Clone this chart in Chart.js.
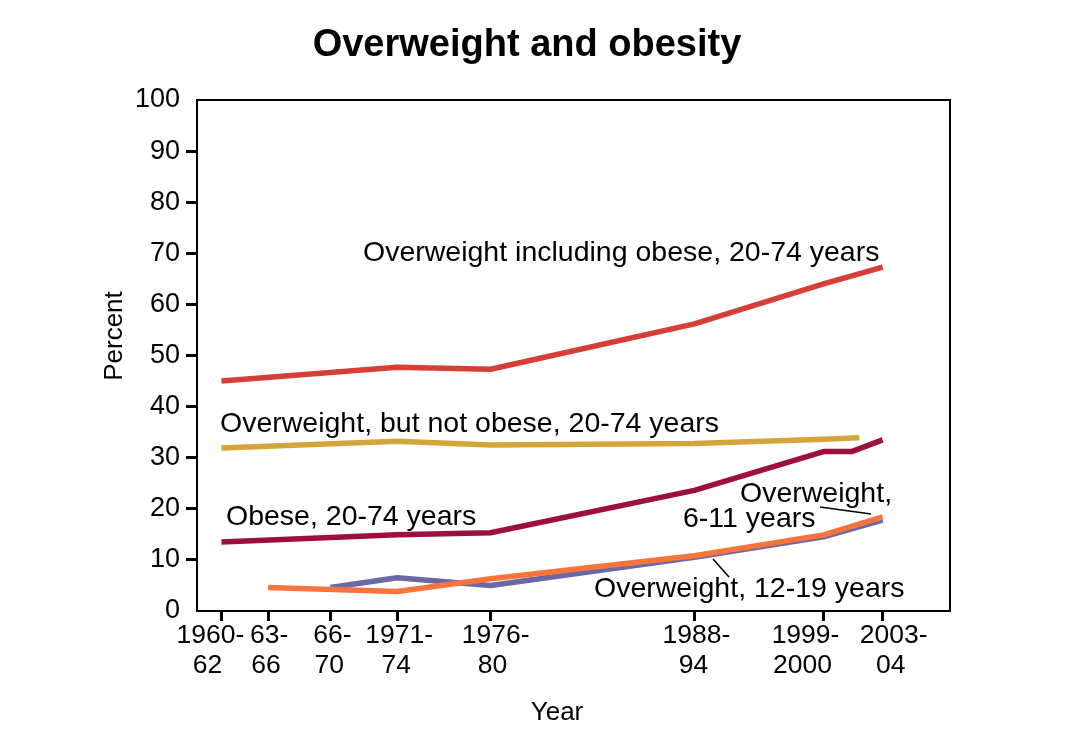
<!DOCTYPE html>
<html><head><meta charset="utf-8">
<script src="https://cdn.jsdelivr.net/npm/chart.js@4.4.1/dist/chart.umd.min.js"></script>
<style>html,body{margin:0;padding:0;background:#fff;} #wrap{width:1092px;height:742px;}</style>
</head><body><div id="wrap"><canvas id="c" width="1092" height="742"></canvas></div>
<script>
// ---- data ----
const tickYears = [1961, 1964, 1968, 1972.3, 1978.3, 1991.4, 1999.7, 2003.5];
const tickLabels = [['1960-','62'],['63-','66'],['66-','70'],['1971-','74'],['1976-','80'],['1988-','94'],['1999-','2000'],['2003-','04']];
const yTicks = [0,10,20,30,40,50,60,70,80,90,100];

const xOverweightAll = [1961, 1972.3, 1978.3, 1991.4, 1999.7, 2003.5];
const overweightAll  = [45.0, 47.7, 47.3, 56.2, 64.0, 67.3];
const xOverweightOnly = [1961, 1972.3, 1978.3, 1991.4, 1999.7, 2002];
const overweightOnly  = [31.9, 33.2, 32.5, 32.8, 33.6, 33.9];
const xObese = [1961, 1972.3, 1978.3, 1991.4, 1999.7, 2001.5, 2003.5];
const obese  = [13.5, 14.9, 15.3, 23.6, 31.2, 31.2, 33.5];
const xChild = [1964, 1972.3, 1978.3, 1991.4, 1999.7, 2003.5];
const child  = [4.6, 3.8, 6.3, 10.8, 14.9, 18.4];
const xTeen  = [1968, 1972.3, 1978.3, 1991.4, 1999.7, 2003.5];
const teen   = [4.6, 6.5, 5.0, 10.5, 14.5, 17.8];

// ---- layout / style (not data) ----
const FONT = '"Liberation Sans", Arial, Helvetica, sans-serif';
const xLabelShift = [-11, 1, 2, 2, 5, 2, -18, 11];

function pts(xs, ys){ return xs.map((x,i)=>({x:x, y:ys[i]})); }

const decor = {
  id:'decor',
  afterDraw(chart){
    const ctx = chart.ctx, a = chart.chartArea, xs = chart.scales.x;
    ctx.save();
    // frame
    ctx.strokeStyle = '#000'; ctx.lineWidth = 2;
    ctx.strokeRect(a.left, a.top, a.right - a.left, a.bottom - a.top);
    ctx.fillStyle = '#000';
    // x tick labels
    ctx.font = '26.5px ' + FONT;
    ctx.textAlign = 'center'; ctx.textBaseline = 'alphabetic';
    tickYears.forEach((v,i)=>{
      const px = xs.getPixelForValue(v) + xLabelShift[i];
      ctx.fillText(tickLabels[i][0], px, 643);
      ctx.fillText(tickLabels[i][1], px - 3, 673);
    });
    // title
    ctx.font = 'bold 38px ' + FONT;
    ctx.fillText('Overweight and obesity', 527, 56);
    // axis titles
    ctx.font = '26px ' + FONT;
    ctx.fillText('Year', 557, 720);
    ctx.save();
    ctx.translate(122, 336); ctx.rotate(-Math.PI/2);
    ctx.fillText('Percent', 0, 0);
    ctx.restore();
    // annotations
    ctx.font = '28.5px ' + FONT;
    ctx.textAlign = 'left';
    ctx.fillText('Overweight including obese, 20-74 years', 363, 261);
    ctx.fillText('Overweight, but not obese, 20-74 years', 220, 432);
    ctx.fillText('Obese, 20-74 years', 226, 525);
    ctx.fillText('Overweight,', 740, 502);
    ctx.fillText('6-11 years', 683, 527);
    ctx.fillText('Overweight, 12-19 years', 594, 597);
    // leader lines
    ctx.lineWidth = 1.6;
    ctx.beginPath(); ctx.moveTo(820, 507); ctx.lineTo(871, 514); ctx.stroke();
    ctx.beginPath(); ctx.moveTo(713, 559); ctx.lineTo(729, 577); ctx.stroke();
    ctx.restore();
  }
};

const ds = (label, data, color) => ({label, data, borderColor:color, backgroundColor:color, borderWidth:5.5, pointRadius:0, tension:0, fill:false, borderCapStyle:'butt', borderJoinStyle:'round'});

new Chart(document.getElementById('c'), {
  type:'line',
  data:{ datasets:[
    ds('Overweight, 6-11 years', pts(xChild, child), '#f7753c'),
    ds('Overweight, 12-19 years', pts(xTeen, teen), '#6b68a8'),
    ds('Overweight including obese, 20-74 years', pts(xOverweightAll, overweightAll), '#d63f38'),
    ds('Overweight, but not obese, 20-74 years', pts(xOverweightOnly, overweightOnly), '#d5a43c'),
    ds('Obese, 20-74 years', pts(xObese, obese), '#9e0f40')
  ]},
  options:{
    responsive:false, animation:false,
    layout:{padding:{left:0, right:142, top:100, bottom:0}},
    plugins:{legend:{display:false}, tooltip:{enabled:false}},
    scales:{
      x:{type:'linear', min:1959.43, max:2007.83,
         afterBuildTicks:s=>{ s.ticks = tickYears.map(v=>({value:v})); },
         afterFit:s=>{ s.height = 131; },
         ticks:{display:false},
         grid:{drawOnChartArea:false, drawTicks:true, tickLength:10, tickWidth:3, tickColor:'#000'},
         border:{display:false}},
      y:{type:'linear', min:0, max:100,
         afterBuildTicks:s=>{ s.ticks = yTicks.map(v=>({value:v})); },
         afterFit:s=>{ s.width = 197; },
         ticks:{color:'#000', padding:6, font:{family:FONT, size:27}},
         grid:{drawOnChartArea:false, drawTicks:true, tickLength:11, tickWidth:3,
               tickColor:c=>(c.tick && (c.tick.value===0 || c.tick.value===100)) ? 'rgba(0,0,0,0)' : '#000'},
         border:{display:false}}
    }
  },
  plugins:[decor]
});
</script></body></html>
